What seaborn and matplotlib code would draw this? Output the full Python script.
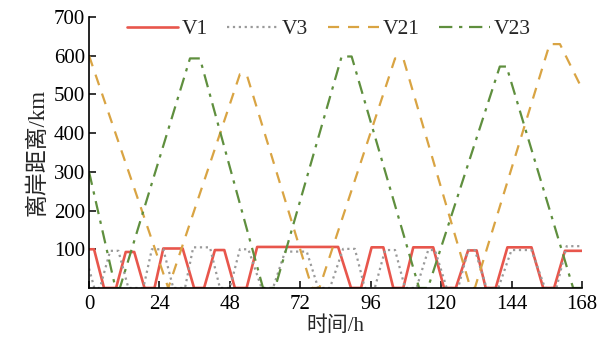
import numpy as np
import pandas as pd
import seaborn as sns
import matplotlib
matplotlib.use("Agg")
import matplotlib.pyplot as plt

# hours / distance (km)
t_v1 = [0, 1.7, 5.1, 9.2, 12.5, 15.4, 18.9, 22.3, 25.3, 31.9, 35.8, 39.2, 42.9, 46.1,
        49.7, 53.7, 57.3, 84.9, 89.3, 92.7, 96.3, 100.3, 103.7, 107.1, 110.5, 117.3,
        121, 125, 129.2, 132.1, 135.2, 138.6, 142.6, 150.8, 154.8, 158.5, 162.2, 168]
d_v1 = [100, 100, 0, 0, 93, 93, 0, 0, 102, 102, 0, 0, 98, 98,
        0, 0, 106, 106, 0, 0, 105, 105, 0, 0, 105, 105,
        0, 0, 97, 97, 0, 0, 105, 105, 0, 0, 96, 96]

t_v3 = [0, 1.8, 3.7, 7.2, 10, 13.4, 18.5, 21.4, 25.3, 28.7, 32.7, 35.5, 41.2, 44.6,
        48, 51.4, 54.3, 58.8, 62.7, 66.8, 74.2, 78.1, 82.1, 86.6, 90.6, 94, 97.4,
        100.9, 104.3, 107.7, 111.6, 115.6, 117.9, 121.9, 125.8, 129.2, 131.5, 135.5,
        139.5, 144, 150.8, 155.4, 159.3, 162.8, 168]
d_v3 = [50, 0, 0, 96, 96, 0, 0, 100, 100, 0, 0, 105, 105, 0,
        0, 100, 100, 0, 0, 94, 94, 0, 0, 101, 101, 0, 0,
        98, 98, 0, 0, 98, 98, 0, 0, 98, 98, 0,
        0, 98, 98, 0, 0, 108, 108]

t_v21 = [0, 27, 51.4, 53.7, 76, 78.5, 104.3, 107.1, 130, 131.5, 157, 160.5, 168]
d_v21 = [600, 0, 552, 552, 0, 0, 593, 593, 0, 0, 630, 630, 515]

t_v23 = [0, 9.0, 10.5, 34.4, 37.8, 59.3, 63.4, 86.1, 89.5, 112.5, 115.5, 140, 142.3, 165, 168]
d_v23 = [300, 0, 0, 593, 593, 0, 0, 598, 598, 0, 0, 572, 572, 0, 0]

x_ticks = [0, 24, 48, 72, 96, 120, 144, 168]
y_ticks = [100, 200, 300, 400, 500, 600, 700]

sns.set_style("ticks")
plt.rcParams['font.family'] = ['Liberation Serif', 'Noto Sans CJK SC']
plt.rcParams['xtick.direction'] = 'in'
plt.rcParams['ytick.direction'] = 'in'

fig = plt.figure(figsize=(6.1, 3.4), dpi=100)
ax = fig.add_axes([0.146, 0.153, 0.808, 0.797])

series = [
    ("V1", t_v1, d_v1, "#e8564c", "-", 1.9),
    ("V3", t_v3, d_v3, "#9a9a9a", ":", 1.6),
    ("V21", t_v21, d_v21, "#d9a443", (0, (5, 4)), 1.6),
    ("V23", t_v23, d_v23, "#5f8f3e", (0, (6, 3, 1.5, 3)), 1.6),
]
for name, t, d, c, ls, lw in series:
    sns.lineplot(x=t, y=d, ax=ax, color=c, linestyle=ls, linewidth=lw,
                 label=name, sort=False, estimator=None)

ax.set_xlim(0, 168)
ax.set_ylim(0, 700)
ax.set_xticks(x_ticks)
ax.set_yticks(y_ticks)
ax.tick_params(labelsize=15, length=5, width=1.1, colors="black", pad=3)
ax.tick_params(axis="x", pad=5)
for s in ["top", "right"]:
    ax.spines[s].set_visible(False)
for s in ["left", "bottom"]:
    ax.spines[s].set_linewidth(1.2)
    ax.spines[s].set_color("black")

ax.set_xlabel("时间/h", fontsize=15, labelpad=2)
ax.set_ylabel("离岸距离/km", fontsize=16.5, labelpad=4)

ax.legend(loc="center", bbox_to_anchor=(0.486, 0.955), ncol=4, frameon=False,
          fontsize=15.5, handlelength=2.4, handletextpad=0.15, columnspacing=0.9,
          borderaxespad=0)

fig.savefig("out.png", dpi=100)
